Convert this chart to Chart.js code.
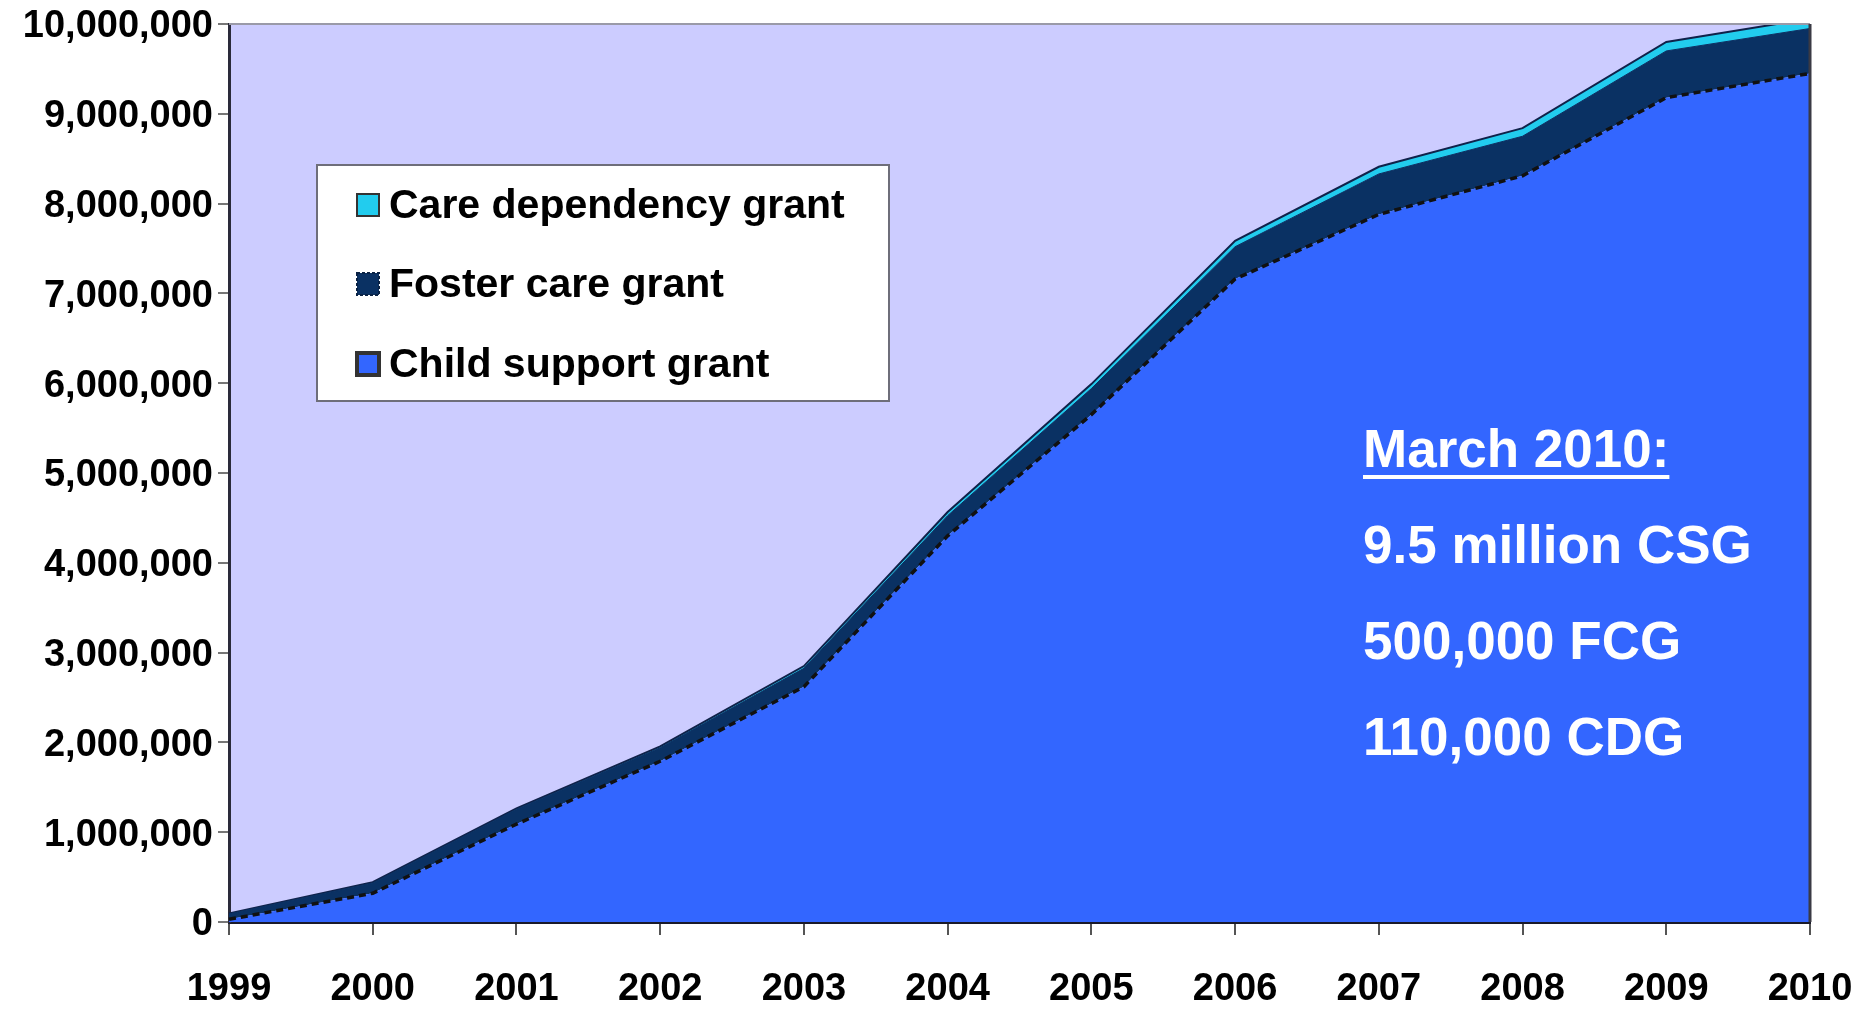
<!DOCTYPE html>
<html>
<head>
<meta charset="utf-8">
<title>Child grants 1999-2010</title>
<script src="https://cdn.jsdelivr.net/npm/chart.js@4.4.1/dist/chart.umd.min.js"></script>
<style>
  html, body { margin: 0; padding: 0; background: #fff; }
  #wrap { width: 1859px; height: 1009px; }
</style>
</head>
<body>
<div id="wrap"><canvas id="grants" width="1859" height="1009"></canvas></div>
<script>
// Beneficiaries per year (stacked areas)
const years = ['1999', '2000', '2001', '2002', '2003', '2004', '2005', '2006', '2007', '2008', '2009', '2010'];
const childSupport = [30000, 320000, 1090000, 1790000, 2620000, 4300000, 5650000, 7160000, 7880000, 8310000, 9180000, 9450000];
const fosterCare = [60000, 115000, 165000, 150000, 205000, 225000, 290000, 360000, 450000, 440000, 520000, 500000];
const careDependency = [5000, 8000, 10000, 15000, 25000, 40000, 50000, 65000, 80000, 90000, 100000, 110000];
const yTicksMax = 10000000;
const yStep = 1000000;

const FONT = "'Liberation Sans', Arial, sans-serif";

// callout text for the latest year
const last = years.length - 1;
const callout = [
  'March ' + years[last] + ':',
  (Math.round(childSupport[last] / 1e5) / 10).toFixed(1) + ' million CSG',
  fosterCare[last].toLocaleString('en-US') + ' FCG',
  careDependency[last].toLocaleString('en-US') + ' CDG'
];

// plot background + frame
const plotBg = {
  id: 'plotBg',
  beforeDraw(chart) {
    const { ctx, chartArea: a } = chart;
    ctx.save();
    ctx.fillStyle = '#ccccff';
    ctx.fillRect(a.left, a.top, a.right - a.left, a.bottom - a.top);
    ctx.restore();
  },
  afterDraw(chart) {
    const { ctx, chartArea: a } = chart;
    ctx.save();
    ctx.strokeStyle = '#9a9aa8';
    ctx.lineWidth = 2;
    ctx.beginPath();
    ctx.moveTo(a.left, a.top);
    ctx.lineTo(a.right, a.top);
    ctx.stroke();
    ctx.strokeStyle = '#3a3a44';
    ctx.lineWidth = 3;
    ctx.beginPath();
    ctx.moveTo(a.right, a.top);
    ctx.lineTo(a.right, a.bottom);
    ctx.stroke();
    ctx.restore();
  }
};

// boxed legend inside the plot, top item = top of the stack
const boxLegend = {
  id: 'boxLegend',
  afterDatasetsDraw(chart, args, opts) {
    const { ctx } = chart;
    const b = opts.box;
    ctx.save();
    ctx.fillStyle = '#ffffff';
    ctx.fillRect(b.x, b.y, b.w, b.h);
    ctx.strokeStyle = '#6e6e7a';
    ctx.lineWidth = 2;
    ctx.strokeRect(b.x, b.y, b.w, b.h);
    const items = chart.data.datasets.slice().reverse();
    items.forEach((ds, i) => {
      const cy = opts.rows[i];
      const s = opts.marker;
      ctx.fillStyle = ds.backgroundColor;
      ctx.fillRect(opts.markerX, cy - s / 2, s, s);
      ctx.strokeStyle = ds.legendEdge;
      ctx.lineWidth = ds.legendEdgeWidth;
      ctx.setLineDash(ds.legendDash || []);
      ctx.strokeRect(opts.markerX, cy - s / 2, s, s);
      ctx.setLineDash([]);
      ctx.fillStyle = '#000';
      ctx.font = 'bold ' + opts.fontSize + 'px ' + FONT;
      ctx.textBaseline = 'middle';
      ctx.textAlign = 'left';
      ctx.fillText(ds.label, opts.textX, cy + 2);
    });
    ctx.restore();
  }
};

// white callout on the blue area
const calloutText = {
  id: 'calloutText',
  afterDatasetsDraw(chart, args, opts) {
    const { ctx } = chart;
    ctx.save();
    ctx.fillStyle = '#ffffff';
    ctx.font = 'bold ' + opts.fontSize + 'px ' + FONT;
    ctx.textAlign = 'left';
    ctx.textBaseline = 'alphabetic';
    callout.forEach((t, i) => {
      const y = opts.y0 + i * opts.step;
      ctx.fillText(t, opts.x, y);
      if (i === 0) {
        const w = ctx.measureText(t).width;
        ctx.fillRect(opts.x, y + 8, w, 4);
      }
    });
    ctx.restore();
  }
};

new Chart(document.getElementById('grants'), {
  type: 'line',
  data: {
    labels: years,
    datasets: [
      {
        label: 'Child support grant',
        data: childSupport,
        backgroundColor: '#3366ff',
        borderColor: '#111111',
        borderWidth: 3.5,
        borderDash: [7, 5],
        fill: 'origin',
        legendEdge: '#333333',
        legendEdgeWidth: 4
      },
      {
        label: 'Foster care grant',
        data: fosterCare,
        backgroundColor: '#0a3163',
        borderColor: '#0a3163',
        borderWidth: 1,
        fill: '-1',
        legendEdge: '#0a2244',
        legendEdgeWidth: 2,
        legendDash: [3, 2]
      },
      {
        label: 'Care dependency grant',
        data: careDependency,
        backgroundColor: '#22ccee',
        borderColor: '#10224a',
        borderWidth: 2,
        fill: '-1',
        legendEdge: '#333333',
        legendEdgeWidth: 2
      }
    ]
  },
  options: {
    responsive: false,
    animation: false,
    layout: { padding: { top: 24, right: 49, left: 0, bottom: 0 } },
    elements: { point: { radius: 0, hoverRadius: 0 }, line: { tension: 0 } },
    plugins: {
      legend: { display: false },
      tooltip: { enabled: false },
      boxLegend: {
        box: { x: 317, y: 165, w: 572, h: 236 },
        rows: [205, 284, 364],
        marker: 22,
        markerX: 357,
        textX: 389,
        fontSize: 41
      },
      calloutText: { x: 1363, y0: 467, step: 96, fontSize: 53 }
    },
    scales: {
      x: {
        offset: false,
        grid: { display: true, drawOnChartArea: false, color: '#555', lineWidth: 2, tickLength: 13 },
        border: { display: true, color: '#1a1a2a', width: 3 },
        ticks: { color: '#000', font: { family: FONT, size: 38, weight: 'bold' }, padding: 32, maxRotation: 0, autoSkip: false },
        afterFit(scale) {
          scale.height = 87;
          scale.paddingLeft = 0;
          scale.paddingRight = 0;
        }
      },
      y: {
        stacked: true,
        min: 0,
        max: yTicksMax,
        grid: { display: true, drawOnChartArea: false, color: '#777', lineWidth: 2, tickLength: 11 },
        border: { display: true, color: '#2a2a3a', width: 3 },
        ticks: {
          stepSize: yStep,
          color: '#000',
          padding: 5,
          labelOffset: 3,
          font: { family: FONT, size: 38, weight: 'bold' },
          callback: v => v.toLocaleString('en-US')
        },
        afterFit(scale) {
          scale.width = 229;
          scale.paddingTop = 0;
          scale.paddingBottom = 0;
        }
      }
    }
  },
  plugins: [plotBg, boxLegend, calloutText]
});
</script>
</body>
</html>
